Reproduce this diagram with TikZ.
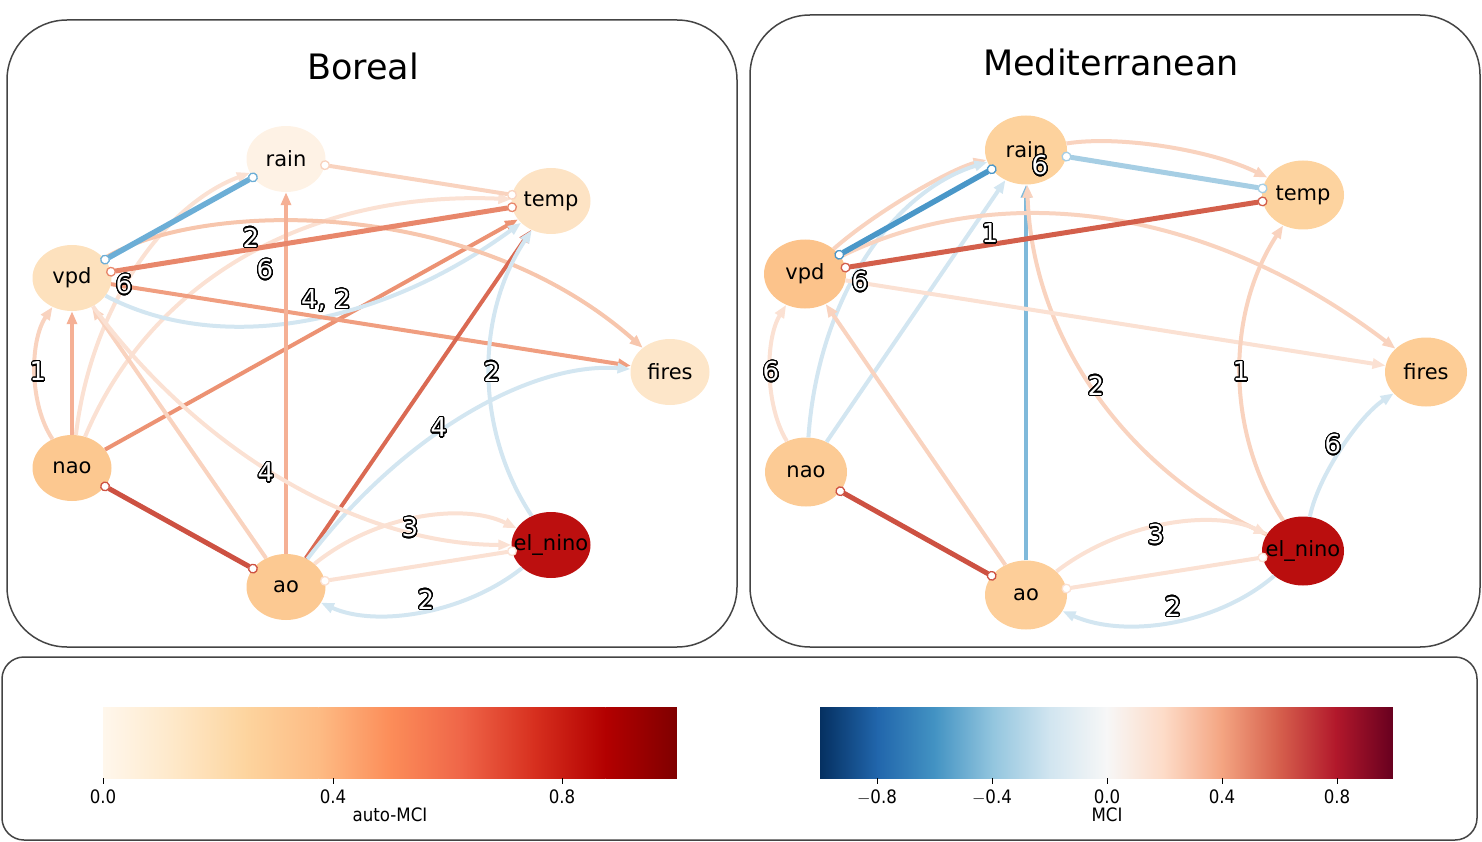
\documentclass[tikz,border=0pt]{standalone}
\usepackage{fontspec}
\setmainfont{DejaVu Sans}
\newfontfamily\dvc[FakeStretch=0.9]{DejaVu Sans}
\usepackage{contour}
\contourlength{1.15pt}
\contournumber{32}
\usetikzlibrary{shapes.geometric,arrows.meta}
% node colours
\definecolor{bRain}{HTML}{FEF2E5}
\definecolor{bTemp}{HTML}{FDE3C4}
\definecolor{bVpd}{HTML}{FDE1BD}
\definecolor{bFires}{HTML}{FDE6C9}
\definecolor{bNao}{HTML}{FCC890}
\definecolor{bAo}{HTML}{FCC992}
\definecolor{bEl}{HTML}{BC0F0F}
\definecolor{mRain}{HTML}{FDD29D}
\definecolor{mVpd}{HTML}{FCC38B}
\definecolor{mTemp}{HTML}{FDD39F}
\definecolor{mFires}{HTML}{FDCD96}
\definecolor{mNao}{HTML}{FCCB95}
\definecolor{mAo}{HTML}{FDCE99}
\definecolor{mEl}{HTML}{BA0E0E}
% edge colours
\definecolor{lp}{HTML}{F9D3BF}
\definecolor{lp2}{HTML}{F7C6AD}
\definecolor{vlp}{HTML}{FBE1D3}
\definecolor{sal}{HTML}{F5B095}
\definecolor{sal2}{HTML}{F09E80}
\definecolor{sal3}{HTML}{E8876B}
\definecolor{sal4}{HTML}{EC9273}
\definecolor{red1}{HTML}{DA6A53}
\definecolor{red2}{HTML}{CD5142}
\definecolor{red3}{HTML}{D35F4B}
\definecolor{lb}{HTML}{D3E6F1}
\definecolor{lb2}{HTML}{A6CEE4}
\definecolor{mb}{HTML}{6CAED6}
\definecolor{mb2}{HTML}{7FB9DA}
\definecolor{db}{HTML}{4A97C8}
\definecolor{panelgray}{HTML}{444444}
% OrRd
\definecolor{o0}{HTML}{FFF7EC}
\definecolor{o1}{HTML}{FEE8C8}
\definecolor{o2}{HTML}{FDD49E}
\definecolor{o3}{HTML}{FDBB84}
\definecolor{o4}{HTML}{FC8D59}
\definecolor{o5}{HTML}{EF6548}
\definecolor{o6}{HTML}{D7301F}
\definecolor{o7}{HTML}{B30000}
\definecolor{o8}{HTML}{7F0000}
% RdBu_r
\definecolor{r0}{HTML}{053061}
\definecolor{r1}{HTML}{2166AC}
\definecolor{r2}{HTML}{4393C3}
\definecolor{r3}{HTML}{92C5DE}
\definecolor{r4}{HTML}{D1E5F0}
\definecolor{r5}{HTML}{F7F7F7}
\definecolor{r6}{HTML}{FDDBC7}
\definecolor{r7}{HTML}{F4A582}
\definecolor{r8}{HTML}{D6604D}
\definecolor{r9}{HTML}{B2182B}
\definecolor{r10}{HTML}{67001F}
\begin{document}
\begin{tikzpicture}[x=1pt,y=-1pt,
  nd/.style={ellipse, minimum width=79pt, minimum height=66pt, inner sep=0pt, font=\fontsize{21}{21}\selectfont},
  mnd/.style={nd, minimum width=82pt, minimum height=69pt},
  ed/.style={line width=4pt, -{Triangle[length=13pt,width=10pt]}},
  cc/.style={line width=4pt, {Circle[length=10pt,fill=white,line width=1.3pt]}-{Circle[length=10pt,fill=white,line width=1.3pt]}, shorten <=-5pt, shorten >=-5pt},
  lbl/.style={text=white, font=\fontsize{26}{26}\selectfont, inner sep=0pt},
  panel/.style={draw=panelgray, line width=1.5pt, rounded corners=60pt},
  ttl/.style={font=\fontsize{35}{35}\selectfont},
  tick/.style={font=\dvc\fontsize{18.5}{18.5}\selectfont, inner sep=0pt},
]
\useasboundingbox (0,0) rectangle (1482,842);
% panels
\draw[panel] (7,20) rectangle (737,647);
\draw[panel] (750,15) rectangle (1480,647);
\draw[panel, rounded corners=22pt] (2,657) rectangle (1477,840);
\node[ttl] (tb) at (363,66) {Boreal};
\node[ttl] (tm) at (1111,62) {Mediterranean};

% ---------- Boreal nodes
\node[nd, fill=bRain] (brain) at (286,159) {\makebox[0pt]{rain}};
\node[nd, fill=bTemp] (btemp) at (551,201) {\makebox[0pt]{temp}};
\node[nd, fill=bVpd] (bvpd) at (72,278) {\makebox[0pt]{vpd}};
\node[nd, fill=bFires] (bfires) at (670,372) {\makebox[0pt]{fires}};
\node[nd, fill=bNao] (bnao) at (72,468) {\makebox[0pt]{nao}};
\node[nd, fill=bAo] (bao) at (286,587) {\makebox[0pt]{ao}};
\node[nd, fill=bEl] (bel) at (551,545) {\makebox[0pt]{el\_nino}};

% ---------- Boreal edges
\draw[ed, lp] (bnao) .. controls (29.3,404.7) and (29.3,341.3) .. (bvpd);
\draw[ed, sal, line width=4.5pt] (bnao) -- (bvpd);
\draw[ed, vlp] (bnao) .. controls (90.7,309.3) and (162,206.3) .. (brain);
\draw[ed, vlp] (bnao) .. controls (150.7,279.3) and (310.3,190.3) .. (btemp);
\draw[ed, sal4] (bnao) -- (btemp);
\draw[ed, lb] (bvpd) .. controls (216.3,354.3) and (376,328.7) .. (btemp);
\draw[ed, lp2] (bvpd) .. controls (200,200) and (470,195) .. (bfires);
\draw[ed, sal2] (bvpd) -- (bfires);
\draw[ed, sal] (bao) -- (brain);
\draw[ed, lp] (bao) -- (bvpd);
\draw[ed, red1] (bao) -- (btemp);
\draw[ed, lb] (bao) .. controls (403.3,433.3) and (531.3,361.7) .. (bfires);
\draw[ed, lb] (bel) .. controls (475,430.3) and (475,315.7) .. (btemp);
\draw[ed, lb] (bel) .. controls (464.7,613.7) and (376.3,627.7) .. (bao);
\draw[ed, vlp] (bao) .. controls (373.7,515.7) and (462,501.7) .. (bel);
\draw[ed, vlp] (bvpd) .. controls (203,455.7) and (362.7,544.7) .. (bel);
\draw[cc, vlp] (bao) -- (bel);
\draw[cc, lp] (brain) -- (btemp);
\draw[cc, sal3, line width=5pt] (bvpd) -- (btemp);
\draw[cc, mb, line width=5.5pt] (bvpd) -- (brain);
\draw[cc, red2, line width=5pt] (bnao) -- (bao);

% Boreal labels
\node[lbl] (bl1) at (38,372) {\contour{black}{1}};
\node[lbl] (bl2) at (251,238) {\contour{black}{2}};
\node[lbl] (bl3) at (124,285) {\contour{black}{6}};
\node[lbl] (bl4) at (265,270) {\contour{black}{6}};
\node[lbl] (bl5) at (326,301) {\contour{black}{4, 2}};
\node[lbl] (bl6) at (492,372) {\contour{black}{2}};
\node[lbl] (bl7) at (439,428) {\contour{black}{4}};
\node[lbl] (bl8) at (266,473) {\contour{black}{4}};
\node[lbl] (bl9) at (410,528) {\contour{black}{3}};
\node[lbl] (bl10) at (426,600) {\contour{black}{2}};

% ---------- Mediterranean nodes
\node[mnd, fill=mRain] (mrain) at (1026,150) {\makebox[0pt]{rain}};
\node[mnd, fill=mTemp] (mtemp) at (1303,195) {\makebox[0pt]{temp}};
\node[mnd, fill=mVpd] (mvpd) at (805,274) {\makebox[0pt]{vpd}};
\node[mnd, fill=mFires] (mfires) at (1426,372) {\makebox[0pt]{fires}};
\node[mnd, fill=mNao] (mnao) at (806,472) {\makebox[0pt]{nao}};
\node[mnd, fill=mAo] (mao) at (1026,595) {\makebox[0pt]{ao}};
\node[mnd, fill=mEl] (mel) at (1303,551) {\makebox[0pt]{el\_nino}};

% ---------- Mediterranean edges
\draw[ed, lp] (mvpd) .. controls (878,210) and (951.7,168.7) .. (mrain);
\draw[ed, lb] (mnao) .. controls (818,299.3) and (891.3,192) .. (mrain);
\draw[ed, lb] (mnao) -- (mrain);
\draw[ed, vlp] (mnao) .. controls (765,406) and (764.7,340) .. (mvpd);
\draw[ed, lp] (mao) -- (mvpd);
\draw[ed, mb2, line width=4.5pt] (mao) -- (mrain);
\draw[ed, lp] (mel) .. controls (1124.7,470) and (1032.3,336.3) .. (mrain);
\draw[ed, lp] (mrain) .. controls (1119,135) and (1211.3,150) .. (mtemp);
\draw[ed, lp] (mvpd) .. controls (1004.7,176) and (1211.7,208.7) .. (mfires);
\draw[ed, vlp] (mvpd) -- (mfires);
\draw[ed, lp] (mel) .. controls (1225.7,432.3) and (1225.7,313.7) .. (mtemp);
\draw[ed, lb] (mel) .. controls (1318,476) and (1359,416.3) .. (mfires);
\draw[ed, vlp] (mao) .. controls (1119,523) and (1211.3,508.3) .. (mel);
\draw[ed, lb] (mel) .. controls (1218,624.3) and (1125.7,639) .. (mao);
\draw[cc, vlp] (mao) -- (mel);
\draw[cc, lb2, line width=5pt] (mrain) -- (mtemp);
\draw[cc, red3, line width=5pt] (mvpd) -- (mtemp);
\draw[cc, db, line width=5.5pt] (mvpd) -- (mrain);
\draw[cc, red2, line width=5pt] (mnao) -- (mao);

% Mediterranean labels
\node[lbl] (ml1) at (1040,166) {\contour{black}{6}};
\node[lbl] (ml2) at (990,234) {\contour{black}{1}};
\node[lbl] (ml3) at (860,282) {\contour{black}{6}};
\node[lbl] (ml4) at (771,372) {\contour{black}{6}};
\node[lbl] (ml5) at (1096,386) {\contour{black}{2}};
\node[lbl] (ml6) at (1241,372) {\contour{black}{1}};
\node[lbl] (ml7) at (1333,445) {\contour{black}{6}};
\node[lbl] (ml8) at (1156,535) {\contour{black}{3}};
\node[lbl] (ml9) at (1173,607) {\contour{black}{2}};

% ---------- colour bars
\foreach \i/\a/\b in {0/o0/o1,1/o1/o2,2/o2/o3,3/o3/o4,4/o4/o5,5/o5/o6,6/o6/o7,7/o7/o8}{
  \shade[left color=\a, right color=\b] ({103+71.75*\i},707) rectangle ({103+71.75*\i+72.2},778);
}
\fill[white] (677,706) rectangle (680,779);
\foreach \i/\a/\b in {0/r0/r1,1/r1/r2,2/r2/r3,3/r3/r4,4/r4/r5,5/r5/r6,6/r6/r7,7/r7/r8,8/r8/r9,9/r9/r10}{
  \shade[left color=\a, right color=\b] ({820+57.3*\i},707) rectangle ({820+57.3*\i+57.7},778);
}
\fill[white] (1393,706) rectangle (1396,779);
\foreach \x/\t [count=\k] in {103/0.0,333/0.4,562/0.8}{
  \draw[line width=0.8pt] (\x,778) -- (\x,784);
  \node[tick] (ta\k) at (\x,797) {\t};
}
\foreach \x/\t [count=\k] in {877/$-$0.8,992/$-$0.4,1107/0.0,1222/0.4,1337/0.8}{
  \draw[line width=0.8pt] (\x,778) -- (\x,784);
  \node[tick] (tr\k) at (\x,797) {\t};
}
\node[tick] (cla) at (390,815) {auto-MCI};
\node[tick] (clb) at (1107,815) {MCI};
\end{tikzpicture}
\end{document}
